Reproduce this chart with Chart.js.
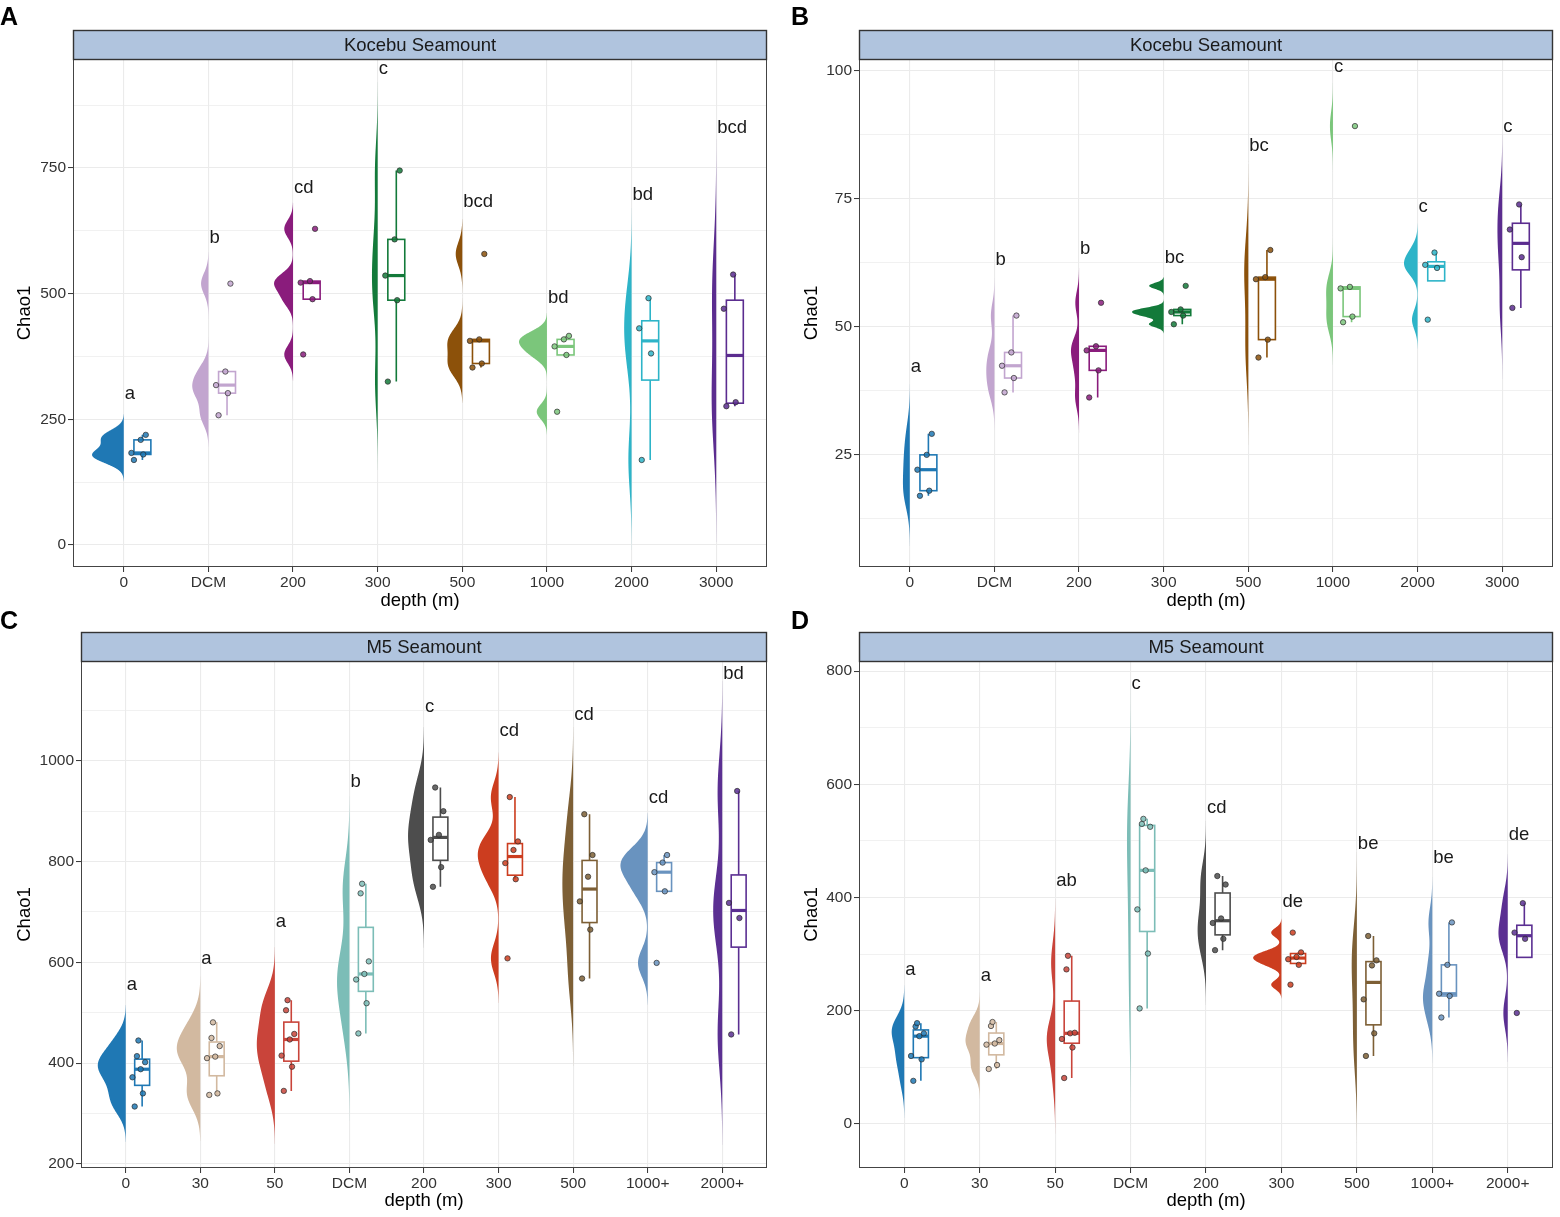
<!DOCTYPE html>
<html>
<head>
<meta charset="utf-8">
<title>Chao1 by depth</title>
<script src="https://cdn.jsdelivr.net/npm/chart.js@4.4.1/dist/chart.umd.min.js"></script>
<style>
  html, body { margin: 0; padding: 0; background: #fff; }
  body { position: relative; width: 1560px; height: 1217px; overflow: hidden; }
  canvas { position: absolute; }
</style>
</head>
<body>
<canvas id="panelA" width="780" height="615" style="left:0;top:0"></canvas>
<canvas id="panelB" width="780" height="615" style="left:780px;top:0"></canvas>
<canvas id="panelC" width="780" height="617" style="left:0;top:600px"></canvas>
<canvas id="panelD" width="780" height="617" style="left:780px;top:600px"></canvas>
<script>
// depth categories
const depthKocebu = ['0', 'DCM', '200', '300', '500', '1000', '2000', '3000'];
const depthM5 = ['0', '30', '50', 'DCM', '200', '300', '500', '1000+', '2000+'];

// Chao1 per sample, one list per depth
const chaoA = [
    [169, 180, 183, 209, 219],
    [258, 302, 318, 345, 520],
    [379, 489, 522, 525, 629],
    [325, 487, 536, 608, 745],
    [353, 361, 406, 409, 579],
    [265, 378, 395, 409, 416],
    [169, 381, 431, 491],
    [276, 284, 470, 538]
];
const chaoB = [
    [17.0, 18.0, 22.1, 25.0, 29.1],
    [37.2, 40.0, 42.4, 45.0, 52.2],
    [36.2, 41.5, 45.4, 46.2, 54.7],
    [50.5, 52.2, 52.9, 53.4, 58.0],
    [44.0, 47.5, 59.3, 59.7, 65.0],
    [50.9, 52.0, 57.5, 57.8, 89.2],
    [51.4, 61.5, 62.1, 64.5],
    [53.7, 63.6, 69.0, 73.9]
];
const chaoC = [
    [314, 340, 372, 388, 402, 414, 445],
    [337, 340, 410, 413, 434, 450, 481],
    [345, 393, 415, 447, 458, 505, 525],
    [459, 519, 566, 577, 602, 737, 756],
    [750, 789, 843, 853, 900, 947],
    [608, 765, 797, 823, 840, 928],
    [568, 665, 721, 770, 813, 894],
    [599, 741, 779, 798, 813],
    [457, 688, 718, 940]
];
const chaoD = [
    [76, 114, 120, 155, 160, 172, 178],
    [97, 104, 140, 142, 148, 173, 180],
    [81, 135, 150, 160, 161, 273, 297],
    [204, 301, 379, 448, 525, 530, 539],
    [307, 327, 355, 363, 423, 438],
    [246, 281, 291, 295, 303, 338],
    [120, 160, 220, 280, 289, 332],
    [188, 226, 230, 281, 356],
    [196, 327, 338, 390]
];

// significance letters and the Chao1 level they sit at
const lettersA = ['a', 'b', 'cd', 'c', 'bcd', 'bd', 'bd', 'bcd'];
const lettersB = ['a', 'b', 'b', 'bc', 'bc', 'c', 'c', 'c'];
const lettersC = ['a', 'a', 'a', 'b', 'c', 'cd', 'cd', 'cd', 'bd'];
const lettersD = ['a', 'a', 'ab', 'c', 'cd', 'de', 'be', 'be', 'de'];
const letterAtA = [290, 601, 700, 937, 672, 481, 686, 820];
const letterAtB = [41.2, 62.1, 64.3, 62.5, 84.4, 99.8, 72.5, 88.1];
const letterAtC = [545, 597, 670, 948, 1097, 1049, 1081, 916, 1162];
const letterAtD = [263, 253, 420, 769, 549, 383, 486, 461, 502];

// y tick labels
const ticksA = [0, 250, 500, 750];
const ticksB = [25, 50, 75, 100];
const ticksC = [200, 400, 600, 800, 1000];
const ticksD = [0, 200, 400, 600, 800];

const paletteKocebu = ['#1F78B4', '#C2A5CF', '#8A1C7C', '#137A3A', '#8C510A', '#7BC67B', '#2DB4C8', '#5B2C8F'];
const paletteM5 = ['#1F78B4', '#D2B9A0', '#C9443A', '#7CBDB7', '#4D4D4D', '#CC3D1F', '#7D5F35', '#6993BF', '#5B2F92'];

const FONT = '"Liberation Sans", Arial, Helvetica, sans-serif';
const VIOLIN_W = 0.375;   // max half-violin width, in category units
const BOX_OFF = 0.22;     // box centre offset from category
const BOX_W = 0.2;
const PT_OFF = 0.17;      // jittered points centre
const JIT = [-0.05, 0.06, -0.08, 0.03, 0.09, -0.02, 0.0];

Chart.defaults.font.family = FONT;

const panels = {
    panelA: { cats: depthKocebu, values: chaoA, letters: lettersA, letterAt: letterAtA, ticks: ticksA, colors: paletteKocebu,
              title: 'Kocebu Seamount', tag: 'A', yMin: -44, yMax: 967,
              origin: [0, 0], area: [73, 59, 767, 567], yTitleX: 25, xTitleY: 601, tagPos: [0, 25] },
    panelB: { cats: depthKocebu, values: chaoB, letters: lettersB, letterAt: letterAtB, ticks: ticksB, colors: paletteKocebu,
              title: 'Kocebu Seamount', tag: 'B', yMin: 3.1, yMax: 102.3,
              origin: [780, 0], area: [859, 59, 1553, 567], yTitleX: 812, xTitleY: 601, tagPos: [791, 25] },
    panelC: { cats: depthM5, values: chaoC, letters: lettersC, letterAt: letterAtC, ticks: ticksC, colors: paletteM5,
              title: 'M5 Seamount', tag: 'C', yMin: 192, yMax: 1198,
              origin: [0, 600], area: [81, 661, 767, 1168], yTitleX: 25, xTitleY: 1201, tagPos: [0, 629] },
    panelD: { cats: depthM5, values: chaoD, letters: lettersD, letterAt: letterAtD, ticks: ticksD, colors: paletteM5,
              title: 'M5 Seamount', tag: 'D', yMin: -78, yMax: 818,
              origin: [780, 600], area: [859, 661, 1553, 1168], yTitleX: 812, xTitleY: 1201, tagPos: [791, 629] }
};

// quantile, R type 7
function quantile(sorted, p) {
    const h = (sorted.length - 1) * p;
    const lo = Math.floor(h);
    const hi = Math.min(lo + 1, sorted.length - 1);
    return sorted[lo] + (h - lo) * (sorted[hi] - sorted[lo]);
}

// bandwidth like R's bw.nrd0
function bandwidth(v) {
    const n = v.length;
    const mean = v.reduce((s, x) => s + x, 0) / n;
    const sd = Math.sqrt(v.reduce((s, x) => s + (x - mean) ** 2, 0) / (n - 1));
    const s = [...v].sort((a, b) => a - b);
    const iqr = (quantile(s, 0.75) - quantile(s, 0.25)) / 1.34;
    let lo = Math.min(sd, iqr);
    if (!(lo > 0)) lo = sd || Math.abs(s[0]) || 1;
    return 0.9 * lo * Math.pow(n, -0.2);
}

// gaussian kernel density, untrimmed (3 bandwidths past the data)
function density(v) {
    const bw = bandwidth(v);
    const lo = Math.min(...v) - 3 * bw;
    const hi = Math.max(...v) + 3 * bw;
    const N = 200;
    const ys = [], d = [];
    for (let k = 0; k < N; k++) {
        const y = lo + (hi - lo) * k / (N - 1);
        let sum = 0;
        v.forEach(x => { const z = (y - x) / bw; sum += Math.exp(-0.5 * z * z); });
        ys.push(y);
        d.push(sum / (v.length * bw * Math.sqrt(2 * Math.PI)));
    }
    return { ys, d };
}

// boxplot stats, whiskers to furthest point within 1.5 IQR
function boxStats(v) {
    const s = [...v].sort((a, b) => a - b);
    const q1 = quantile(s, 0.25), med = quantile(s, 0.5), q3 = quantile(s, 0.75);
    const iqr = q3 - q1;
    const inside = s.filter(x => x >= q1 - 1.5 * iqr && x <= q3 + 1.5 * iqr);
    return { lo: Math.min(inside[0], q1), q1, med, q3, hi: Math.max(inside[inside.length - 1], q3) };
}

function rgba(hex, a) {
    const n = parseInt(hex.slice(1), 16);
    return `rgba(${(n >> 16) & 255}, ${(n >> 8) & 255}, ${n & 255}, ${a})`;
}

const cloudPlugin = {
    id: 'cloud',
    beforeDatasetsDraw(chart) {
        const p = panels[chart.canvas.id];
        const { ctx, chartArea: a } = chart;
        const xs = chart.scales.x, ys = chart.scales.y;
        ctx.save();
        ctx.beginPath();
        ctx.rect(a.left, a.top, a.right - a.left, a.bottom - a.top);
        ctx.clip();

        // half violins
        p.clouds.forEach((c, i) => {
            const x0 = i + 1;
            ctx.beginPath();
            ctx.moveTo(xs.getPixelForValue(x0), ys.getPixelForValue(c.ys[0]));
            c.ys.forEach((y, k) => {
                ctx.lineTo(xs.getPixelForValue(x0 - VIOLIN_W * c.d[k] / p.maxD), ys.getPixelForValue(y));
            });
            ctx.lineTo(xs.getPixelForValue(x0), ys.getPixelForValue(c.ys[c.ys.length - 1]));
            ctx.closePath();
            ctx.fillStyle = p.colors[i];
            ctx.fill();
        });

        // boxplots
        p.stats.forEach((s, i) => {
            const xc = i + 1 + BOX_OFF;
            const L = xs.getPixelForValue(xc - BOX_W / 2);
            const R = xs.getPixelForValue(xc + BOX_W / 2);
            const C = xs.getPixelForValue(xc);
            const yq1 = ys.getPixelForValue(s.q1), yq3 = ys.getPixelForValue(s.q3);
            ctx.strokeStyle = p.colors[i];
            ctx.lineWidth = 1.6;
            ctx.beginPath();
            ctx.moveTo(C, ys.getPixelForValue(s.hi)); ctx.lineTo(C, yq3);
            ctx.moveTo(C, yq1); ctx.lineTo(C, ys.getPixelForValue(s.lo));
            ctx.stroke();
            ctx.fillStyle = '#fff';
            ctx.fillRect(L, yq3, R - L, yq1 - yq3);
            ctx.strokeRect(L, yq3, R - L, yq1 - yq3);
            ctx.lineWidth = 3.2;
            ctx.beginPath();
            ctx.moveTo(L, ys.getPixelForValue(s.med));
            ctx.lineTo(R, ys.getPixelForValue(s.med));
            ctx.stroke();
        });
        ctx.restore();
    },
    afterDatasetsDraw(chart) {
        const p = panels[chart.canvas.id];
        const ctx = chart.ctx;
        const xs = chart.scales.x, ys = chart.scales.y;
        ctx.save();
        ctx.font = '18.5px ' + FONT;
        ctx.fillStyle = '#1a1a1a';
        ctx.textAlign = 'left';
        ctx.textBaseline = 'alphabetic';
        p.letters.forEach((txt, i) => {
            ctx.fillText(txt, xs.getPixelForValue(i + 1) + 1, ys.getPixelForValue(p.letterAt[i]));
        });
        ctx.restore();
    },
    afterDraw(chart) {
        const p = panels[chart.canvas.id];
        const { ctx, chartArea: a } = chart;
        ctx.save();
        // panel border
        ctx.strokeStyle = '#444';
        ctx.lineWidth = 1;
        ctx.strokeRect(a.left + 0.5, a.top, a.right - a.left - 1, a.bottom - a.top - 0.5);
        // facet strip
        const sh = 29;
        ctx.fillStyle = '#B0C4DE';
        ctx.fillRect(a.left, a.top - sh, a.right - a.left, sh);
        ctx.strokeStyle = '#333';
        ctx.lineWidth = 1.4;
        ctx.strokeRect(a.left + 0.5, a.top - sh + 0.5, a.right - a.left - 1, sh);
        ctx.fillStyle = '#1a1a1a';
        ctx.font = '18.5px ' + FONT;
        ctx.textAlign = 'center';
        ctx.textBaseline = 'middle';
        ctx.fillText(p.title, (a.left + a.right) / 2, a.top - sh / 2 + 1);
        // panel tag
        ctx.fillStyle = '#000';
        ctx.font = 'bold 25px ' + FONT;
        ctx.textAlign = 'left';
        ctx.textBaseline = 'alphabetic';
        ctx.fillText(p.tag, p.tagPos[0] - p.origin[0], p.tagPos[1] - p.origin[1]);
        ctx.restore();
    }
};

function buildPanel(id) {
    const p = panels[id];
    const canvas = document.getElementById(id);
    const [ox, oy] = p.origin;
    const W = canvas.width, H = canvas.height;
    const left = p.area[0] - ox, top = p.area[1] - oy, right = p.area[2] - ox, bottom = p.area[3] - oy;

    p.clouds = p.values.map(density);
    p.maxD = Math.max(...p.clouds.map(c => Math.max(...c.d)));
    p.stats = p.values.map(boxStats);

    const step = (p.ticks[1] - p.ticks[0]) / 2;
    const gridVals = [];
    for (let v = Math.ceil(p.yMin / step) * step; v <= p.yMax; v += step) gridVals.push(v);
    const isMajor = v => p.ticks.some(t => Math.abs(t - v) < 1e-9);

    const points = [], fills = [];
    p.values.forEach((vals, i) => {
        vals.forEach((v, k) => {
            points.push({ x: i + 1 + PT_OFF + JIT[k % JIT.length], y: v });
            fills.push(rgba(p.colors[i], 0.85));
        });
    });

    const lh = 18.5 * 1.2 / 2;

    new Chart(canvas, {
        type: 'scatter',
        data: {
            datasets: [{
                data: points,
                pointRadius: 2.7,
                pointBackgroundColor: fills,
                pointBorderColor: '#2b2b2b',
                pointBorderWidth: 0.7
            }]
        },
        options: {
            responsive: false,
            animation: false,
            events: [],
            layout: { padding: { left: 0, top: top, right: W - right, bottom: 0 } },
            plugins: { legend: { display: false }, tooltip: { enabled: false } },
            scales: {
                x: {
                    type: 'linear',
                    min: 0.4,
                    max: p.cats.length + 0.6,
                    afterBuildTicks: ax => { ax.ticks = p.cats.map((c, i) => ({ value: i + 1 })); },
                    afterFit: ax => { ax.height = H - bottom; },
                    ticks: {
                        callback: v => p.cats[Math.round(v) - 1],
                        color: '#333', font: { size: 15.5 }, padding: 1,
                        autoSkip: false, maxRotation: 0
                    },
                    grid: { color: '#EBEBEB', lineWidth: 1.1, tickColor: '#333', tickLength: 5, tickWidth: 1 },
                    border: { display: false },
                    title: {
                        display: true, text: 'depth (m)', color: '#000',
                        font: { size: 18.5 }, padding: { top: 0, bottom: H + oy - p.xTitleY - lh }
                    }
                },
                y: {
                    type: 'linear',
                    min: p.yMin,
                    max: p.yMax,
                    afterBuildTicks: ax => { ax.ticks = gridVals.map(v => ({ value: v })); },
                    afterFit: ax => { ax.width = left; },
                    ticks: {
                        callback: v => (isMajor(v) ? String(Math.round(v * 10) / 10) : ''),
                        color: '#333', font: { size: 15.5 }, padding: 2
                    },
                    grid: {
                        color: '#EBEBEB',
                        lineWidth: c => (isMajor(c.tick.value) ? 1.1 : 0.7),
                        tickColor: c => (isMajor(c.tick.value) ? '#333' : 'rgba(0,0,0,0)'),
                        tickLength: 5, tickWidth: 1
                    },
                    border: { display: false },
                    title: {
                        display: true, text: 'Chao1', color: '#000',
                        font: { size: 18.5 }, padding: { top: p.yTitleX - ox - lh, bottom: 0 }
                    }
                }
            }
        },
        plugins: [cloudPlugin]
    });
}

Object.keys(panels).forEach(buildPanel);
</script>
</body>
</html>
